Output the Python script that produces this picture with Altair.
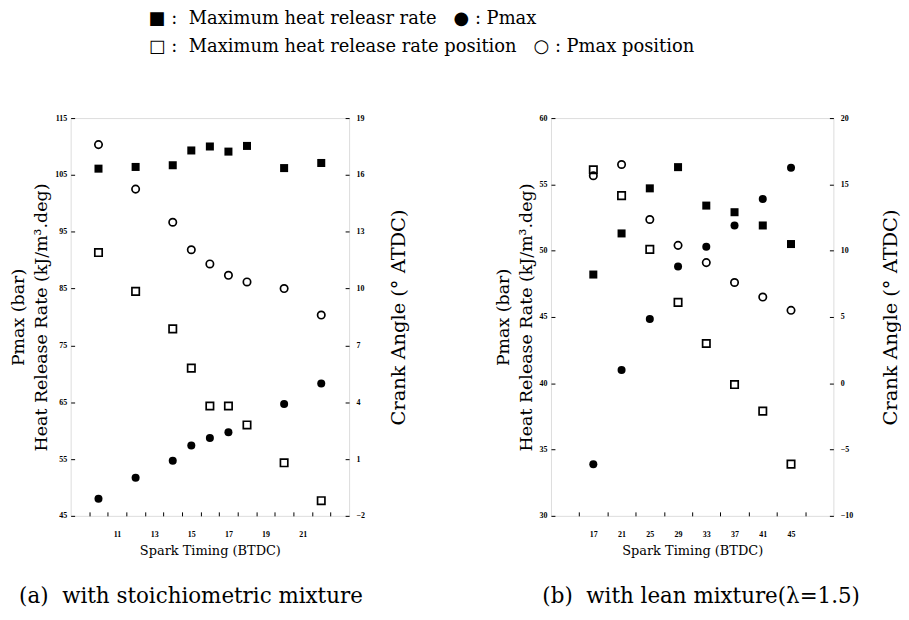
import altair as alt
import pandas as pd

# ---------------- data ----------------
# (a) stoichiometric mixture
timing_a = [10, 12, 14, 15, 16, 17, 18, 20, 22]
hrr_a = [106.1, 106.4, 106.7, 109.3, 110.0, 109.1, 110.1, 106.2, 107.1]
pmax_a = [48.0, 51.7, 54.7, 57.4, 58.7, 59.7, None, 64.7, 68.3]
hrr_pos_a = [11.9, 9.85, 7.87, 5.8, 3.8, 3.8, 2.8, 0.8, -1.2]
pmax_pos_a = [17.6, 15.25, 13.5, 12.05, 11.3, 10.7, 10.35, 10.0, 8.6]

# (b) lean mixture (lambda = 1.5)
timing_b = [17, 21, 25, 29, 33, 37, 41, 45]
hrr_b = [48.2, 51.3, 54.7, 56.3, 53.4, 52.9, 51.9, 50.5]
pmax_b = [33.9, 41.0, 44.85, 48.8, 50.3, 51.9, 53.9, 56.25]
hrr_pos_b = [16.1, 14.15, 10.1, 6.1, 3.0, -0.1, -2.1, -6.1]
pmax_pos_b = [15.65, 16.5, 12.35, 10.4, 9.1, 7.6, 6.5, 5.5]

# axis ticks / labels
xticks_a = list(range(10, 24))
xlabels_a = [11, 13, 15, 17, 19, 21]
xticks_b = [17, 21, 25, 29, 33, 37, 41, 45, 49]
xlabels_b = [17, 21, 25, 29, 33, 37, 41, 45]
yleft_a = [45, 55, 65, 75, 85, 95, 105, 115]
yright_a = [-2, 1, 4, 7, 10, 13, 16, 19]
yleft_b = [30, 35, 40, 45, 50, 55, 60]
yright_b = [-10, -5, 0, 5, 10, 15, 20]

NB = "\u00a0"
legend_lines = [
    "\u25a0" + NB + ":" + NB + NB + "Maximum heat releasr rate" + NB * 3 + "\u25cf" + NB + ":" + NB + "Pmax",
    "\u25a1" + NB + ":" + NB + NB + "Maximum heat release rate position" + NB * 3 + "\u25cb" + NB + ":" + NB + "Pmax position",
]

FONT = "DejaVu Serif"
LFONT = "Liberation Serif"
H = 400


def long_df(timing, v1, v2, n1, n2):
    df = pd.DataFrame({
        "timing": list(timing) * 2,
        "value": list(v1) + list(v2),
        "series": [n1] * len(timing) + [n2] * len(timing),
    })
    return df.dropna()


def panel(timing, hrr, pmax, hrr_pos, pmax_pos, xdom, xticks, xlabels, shift_units,
          ydl, yvl, ydr, yvr, w, caption, cap_dx, rt_pad):
    shift_px = shift_units * w / (xdom[1] - xdom[0])
    lo, hi = min(xlabels), max(xlabels)
    step = xlabels[1] - xlabels[0]
    expr = (f"(datum.value >= {lo} && datum.value <= {hi} && "
            f"((datum.value - {lo}) % {step}) == 0) ? datum.label : ''")
    xaxis = alt.Axis(
        values=xticks, tickOffset=-shift_px, labelOffset=shift_px, labelExpr=expr,
        offset=-4, tickSize=4, tickColor="black", domain=False, grid=False,
        labelPadding=15, labelFontSize=8, labelFontWeight="bold", labelFont=LFONT,
        labelColor="black", title="Spark Timing (BTDC)", titleFont=FONT,
        titleFontSize=13, titleFontWeight="normal", titleColor="black", titlePadding=6,
    )
    x = alt.X("timing:Q", scale=alt.Scale(domain=xdom, nice=False, zero=False), axis=xaxis)

    left_df = long_df(timing, hrr, pmax, "Maximum heat release rate", "Pmax")
    right_df = long_df(timing, hrr_pos, pmax_pos, "Maximum heat release rate position", "Pmax position")

    yl = alt.Y("value:Q", scale=alt.Scale(domain=ydl, nice=False, zero=False),
               axis=alt.Axis(orient="left", values=yvl, offset=-4, tickSize=4, tickColor="black",
                             domain=False, grid=False, labelPadding=4, labelFontSize=8,
                             labelFontWeight="bold", labelFont=LFONT, labelColor="black",
                             title=["Pmax (bar)", "Heat Release Rate (kJ/m\u00b3.deg)"],
                             titleFont=FONT, titleFontSize=17.5, titleFontWeight="normal",
                             titleColor="black", titleLineHeight=23, titlePadding=4))
    yr = alt.Y("value:Q", scale=alt.Scale(domain=ydr, nice=False, zero=False),
               axis=alt.Axis(orient="right", values=yvr, offset=-4, tickSize=4, tickColor="black",
                             domain=False, grid=False, labelPadding=7, labelFontSize=8,
                             labelFontWeight="bold", labelFont=LFONT, labelColor="black",
                             title="Crank Angle (\u00b0 ATDC)", titleAngle=270, titleBaseline="top",
                             titleFont=FONT, titleFontSize=19.5, titleFontWeight="normal",
                             titleColor="black", titlePadding=rt_pad))

    filled = alt.Chart(left_df).mark_point(filled=True, color="black", opacity=1, size=65).encode(
        x=x, y=yl,
        shape=alt.Shape("series:N", scale=alt.Scale(domain=["Maximum heat release rate", "Pmax"],
                                                    range=["square", "circle"]), legend=None),
    )
    hollow = alt.Chart(right_df).mark_point(filled=False, color="black", opacity=1, size=55,
                                            strokeWidth=1.7).encode(
        x=x, y=yr,
        shape=alt.Shape("series:N", scale=alt.Scale(domain=["Maximum heat release rate position", "Pmax position"],
                                                    range=["square", "circle"]), legend=None),
    )
    return alt.layer(filled, hollow).resolve_scale(y="independent", shape="independent").properties(
        width=w, height=H,
        title=alt.TitleParams(caption, orient="bottom", font=FONT, fontSize=21.5, fontWeight="normal",
                              color="black", offset=29, dx=cap_dx),
    )


pa = panel(timing_a, hrr_a, pmax_a, hrr_pos_a, pmax_pos_a, [8.5, 23.5], xticks_a, xlabels_a, 0.5,
           [45, 115], yleft_a, [-2, 19], yright_a, 280,
           "(a)" + NB + NB + "with stoichiometric mixture", -19, 25)
pb = panel(timing_b, hrr_b, pmax_b, hrr_pos_b, pmax_pos_b, [11, 51], xticks_b, xlabels_b, 2,
           [30, 60], yleft_b, [-10, 20], yright_b, 284,
           "(b)" + NB + NB + "with lean mixture(\u03bb=1.5)", 9, 29)

chart = alt.hconcat(pa, pb, spacing=85).properties(
    title=alt.TitleParams(legend_lines, anchor="start", font=FONT, fontSize=18, fontWeight="normal",
                          color="black", lineHeight=28, dx=140, offset=58),
    padding={"left": 1, "top": 0, "right": 0, "bottom": 4},
).configure_view(stroke="black", strokeWidth=1.5).configure(background="white")

chart.save("out.html", embed_options={"renderer": "svg", "actions": False})
